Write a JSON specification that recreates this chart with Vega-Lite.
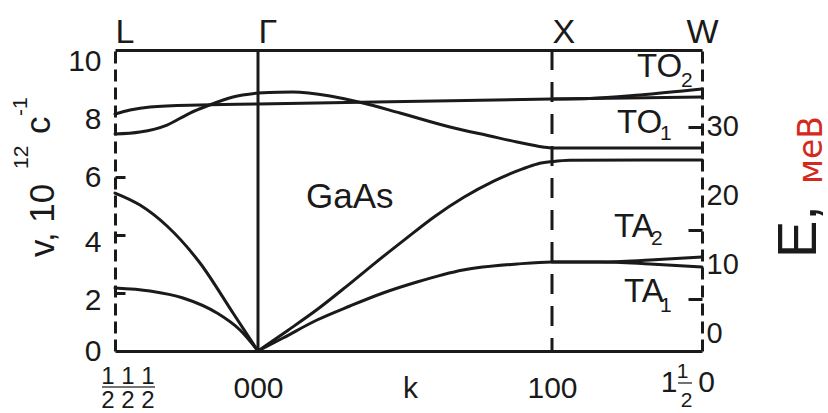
{
  "$schema": "https://vega.github.io/schema/vega-lite/v6.json",
  "width": 587,
  "height": 301,
  "autosize": {"type": "none"},
  "padding": {"left": 115, "top": 50, "right": 126, "bottom": 62},
  "background": "white",
  "config": {
    "view": {"stroke": null},
    "font": "Liberation Sans",
    "axis": {"grid": false}
  },
  "layer": [
    {
      "layer": [
        {
          "data": {"values": [
            {"branch": "LA-LG", "k": -0.4864, "v": 5.448}, {"branch": "LA-LG", "k": -0.4014, "v": 5.034}, {"branch": "LA-LG", "k": -0.3095, "v": 4.31}, {"branch": "LA-LG", "k": -0.1973, "v": 3.034}, {"branch": "LA-LG", "k": -0.085, "v": 1.31}, {"branch": "LA-LG", "k": 0, "v": 0},
            {"branch": "TA-LG", "k": -0.4864, "v": 2.172}, {"branch": "TA-LG", "k": -0.3673, "v": 2.069}, {"branch": "TA-LG", "k": -0.2551, "v": 1.828}, {"branch": "TA-LG", "k": -0.1395, "v": 1.31}, {"branch": "TA-LG", "k": -0.0612, "v": 0.724}, {"branch": "TA-LG", "k": 0, "v": 0},
            {"branch": "TO-LG", "k": -0.4864, "v": 8.172}, {"branch": "TO-LG", "k": -0.4354, "v": 8.31}, {"branch": "TO-LG", "k": -0.3673, "v": 8.414}, {"branch": "TO-LG", "k": -0.1973, "v": 8.483}, {"branch": "TO-LG", "k": 0, "v": 8.517},
            {"branch": "LO-LG", "k": -0.4864, "v": 7.483}, {"branch": "LO-LG", "k": -0.4014, "v": 7.552}, {"branch": "LO-LG", "k": -0.3095, "v": 7.793}, {"branch": "LO-LG", "k": -0.2313, "v": 8.207}, {"branch": "LO-LG", "k": -0.1735, "v": 8.448}, {"branch": "LO-LG", "k": -0.085, "v": 8.759}, {"branch": "LO-LG", "k": 0, "v": 8.897},
            {"branch": "LO-GXW", "k": 0, "v": 8.897}, {"branch": "LO-GXW", "k": 0.119, "v": 8.931}, {"branch": "LO-GXW", "k": 0.2449, "v": 8.793}, {"branch": "LO-GXW", "k": 0.3571, "v": 8.552}, {"branch": "LO-GXW", "k": 0.483, "v": 8.207}, {"branch": "LO-GXW", "k": 0.6531, "v": 7.724}, {"branch": "LO-GXW", "k": 0.7891, "v": 7.414}, {"branch": "LO-GXW", "k": 0.881, "v": 7.207}, {"branch": "LO-GXW", "k": 0.9694, "v": 7.034}, {"branch": "LO-GXW", "k": 1.0, "v": 7.0}, {"branch": "LO-GXW", "k": 1.5102, "v": 7.0},
            {"branch": "TO1-GXW", "k": 0, "v": 8.517}, {"branch": "TO1-GXW", "k": 0.5, "v": 8.6}, {"branch": "TO1-GXW", "k": 1.0, "v": 8.69}, {"branch": "TO1-GXW", "k": 1.5102, "v": 8.759},
            {"branch": "TO2-XW", "k": 1.0, "v": 8.69}, {"branch": "TO2-XW", "k": 1.1293, "v": 8.71}, {"branch": "TO2-XW", "k": 1.2993, "v": 8.83}, {"branch": "TO2-XW", "k": 1.5102, "v": 9.034},
            {"branch": "LA-GXW", "k": 0, "v": 0}, {"branch": "LA-GXW", "k": 0.1, "v": 0.7}, {"branch": "LA-GXW", "k": 0.2, "v": 1.42}, {"branch": "LA-GXW", "k": 0.3, "v": 2.22}, {"branch": "LA-GXW", "k": 0.4, "v": 3.05}, {"branch": "LA-GXW", "k": 0.5, "v": 3.85}, {"branch": "LA-GXW", "k": 0.6, "v": 4.63}, {"branch": "LA-GXW", "k": 0.7, "v": 5.3}, {"branch": "LA-GXW", "k": 0.8, "v": 5.85}, {"branch": "LA-GXW", "k": 0.9, "v": 6.28}, {"branch": "LA-GXW", "k": 0.95, "v": 6.45}, {"branch": "LA-GXW", "k": 1.0, "v": 6.53}, {"branch": "LA-GXW", "k": 1.06, "v": 6.58}, {"branch": "LA-GXW", "k": 1.5102, "v": 6.59},
            {"branch": "TA1-GXW", "k": 0, "v": 0}, {"branch": "TA1-GXW", "k": 0.085, "v": 0.448}, {"branch": "TA1-GXW", "k": 0.2007, "v": 1.069}, {"branch": "TA1-GXW", "k": 0.3129, "v": 1.552}, {"branch": "TA1-GXW", "k": 0.4252, "v": 2.0}, {"branch": "TA1-GXW", "k": 0.5408, "v": 2.379}, {"branch": "TA1-GXW", "k": 0.6973, "v": 2.793}, {"branch": "TA1-GXW", "k": 0.881, "v": 3.0}, {"branch": "TA1-GXW", "k": 1.0, "v": 3.069}, {"branch": "TA1-GXW", "k": 1.1633, "v": 3.069}, {"branch": "TA1-GXW", "k": 1.3333, "v": 3.0}, {"branch": "TA1-GXW", "k": 1.5102, "v": 2.897},
            {"branch": "TA2-XW", "k": 1.0, "v": 3.069}, {"branch": "TA2-XW", "k": 1.1633, "v": 3.069}, {"branch": "TA2-XW", "k": 1.3333, "v": 3.138}, {"branch": "TA2-XW", "k": 1.5102, "v": 3.241}
          ]},
          "mark": {"type": "line", "interpolate": "monotone", "color": "#1a1a1a", "strokeWidth": 3, "strokeCap": "round"},
          "encoding": {
            "x": {
              "field": "k", "type": "quantitative", "title": null,
              "scale": {"domain": [-0.4864, 1.5102], "nice": false, "zero": false},
              "axis": {
                "orient": "bottom",
                "values": [0, 0.517, 1],
                "labelExpr": "datum.value == 0 ? '000' : (datum.value > 0.9 ? '100' : 'k')",
                "grid": false,
                "ticks": false,
                "domainColor": "#1a1a1a",
                "domainWidth": 3,
                "labelColor": "#1a1a1a",
                "labelFontSize": 30,
                "labelBaseline": "alphabetic",
                "labelPadding": 46,
                "labelFlush": false,
                "labelOverlap": false
              }
            },
            "y": {
              "field": "v", "type": "quantitative", "title": null,
              "scale": {"domain": [0, 10.38], "nice": false, "zero": false},
              "axis": {
                "orient": "left",
                "values": [0, 2, 4, 6, 8, 10],
                "grid": false,
                "domainColor": "#1a1a1a",
                "domainWidth": 3,
                "domainDash": [12, 6],
                "tickColor": "#1a1a1a",
                "tickWidth": 3,
                "tickSize": -10,
                "tickOpacity": {"condition": {"test": "datum.value >= 2 && datum.value <= 6", "value": 1}, "value": 0},
                "labelColor": "#1a1a1a",
                "labelFontSize": 30,
                "labelPadding": 24,
                "labelOffset": {"condition": {"test": "datum.value == 2 || datum.value == 4", "value": 7}, "value": 0},
                "labelOverlap": false
              }
            },
            "detail": {"field": "branch"}
          }
        },
        {
          "data": {"values": [{"point": "Γ", "k": 0}]},
          "mark": {"type": "rule", "color": "#1a1a1a", "strokeWidth": 3},
          "encoding": {"x": {"field": "k", "type": "quantitative", "title": null}}
        },
        {
          "data": {"values": [{"point": "X", "k": 1}]},
          "mark": {"type": "rule", "color": "#1a1a1a", "strokeWidth": 3, "strokeDash": [20, 12]},
          "encoding": {"x": {"field": "k", "type": "quantitative", "title": null}}
        },
        {
          "data": {"values": [{"text": "GaAs", "k": 0.1633, "v": 4.931}]},
          "mark": {"type": "text", "fontSize": 35, "align": "left", "baseline": "alphabetic", "color": "#1a1a1a"},
          "encoding": {
            "x": {"field": "k", "type": "quantitative", "title": null},
            "y": {"field": "v", "type": "quantitative", "title": null},
            "text": {"field": "text"}
          }
        },
        {
          "data": {"values": [
            {"text": "v, 10", "k": -0.6939, "v": 3.241},
            {"text": "c", "k": -0.7075, "v": 7.483}
          ]},
          "mark": {"type": "text", "fontSize": 35, "angle": 270, "align": "left", "baseline": "alphabetic", "color": "#1a1a1a"},
          "encoding": {
            "x": {"field": "k", "type": "quantitative", "title": null},
            "y": {"field": "v", "type": "quantitative", "title": null},
            "text": {"field": "text"}
          }
        },
        {
          "data": {"values": [
            {"text": "12", "k": -0.7823, "v": 6.276},
            {"text": "-1", "k": -0.7857, "v": 8.103}
          ]},
          "mark": {"type": "text", "fontSize": 21, "angle": 270, "align": "left", "baseline": "alphabetic", "color": "#1a1a1a"},
          "encoding": {
            "x": {"field": "k", "type": "quantitative", "title": null},
            "y": {"field": "v", "type": "quantitative", "title": null},
            "text": {"field": "text"}
          }
        },
        {
          "data": {"values": [{"text": "E,", "k": 1.898, "v": 3.207}]},
          "mark": {"type": "text", "fontSize": 56, "angle": 270, "align": "left", "baseline": "alphabetic", "color": "#1a1a1a"},
          "encoding": {
            "x": {"field": "k", "type": "quantitative", "title": null},
            "y": {"field": "v", "type": "quantitative", "title": null},
            "text": {"field": "text"}
          }
        },
        {
          "data": {"values": [{"text": "меВ", "k": 1.9184, "v": 6.931}]},
          "mark": {"type": "text", "font": "DejaVu Sans", "fontSize": 33, "angle": 270, "align": "center", "baseline": "alphabetic", "color": "#d42a1e"},
          "encoding": {
            "x": {"field": "k", "type": "quantitative", "title": null},
            "y": {"field": "v", "type": "quantitative", "title": null},
            "text": {"field": "text"}
          }
        },
        {
          "data": {"values": [
            {"text": "1 1 1", "k": -0.4422, "v": -1.138},
            {"text": "2 2 2", "k": -0.4422, "v": -1.966}
          ]},
          "mark": {"type": "text", "fontSize": 24, "align": "center", "baseline": "alphabetic", "color": "#1a1a1a"},
          "encoding": {
            "x": {"field": "k", "type": "quantitative", "title": null},
            "y": {"field": "v", "type": "quantitative", "title": null},
            "text": {"field": "text"}
          }
        },
        {
          "data": {"values": [
            {"text": "1", "k": 1.4439, "v": -0.931},
            {"text": "2", "k": 1.4575, "v": -1.93}
          ]},
          "mark": {"type": "text", "fontSize": 21, "align": "center", "baseline": "alphabetic", "color": "#1a1a1a"},
          "encoding": {
            "x": {"field": "k", "type": "quantitative", "title": null},
            "y": {"field": "v", "type": "quantitative", "title": null},
            "text": {"field": "text"}
          }
        },
        {
          "data": {"values": [
            {"text": "1", "k": 1.398, "v": -1.414},
            {"text": "0", "k": 1.5255, "v": -1.414}
          ]},
          "mark": {"type": "text", "fontSize": 30, "align": "center", "baseline": "alphabetic", "color": "#1a1a1a"},
          "encoding": {
            "x": {"field": "k", "type": "quantitative", "title": null},
            "y": {"field": "v", "type": "quantitative", "title": null},
            "text": {"field": "text"}
          }
        },
        {
          "data": {"values": [
            {"label": "L", "k": -0.5306, "k2": -0.3503, "v": -1.241},
            {"label": "W", "k": 1.4286, "k2": 1.4762, "v": -1.103}
          ]},
          "mark": {"type": "rule", "color": "#444", "strokeWidth": 1.5},
          "encoding": {
            "x": {"field": "k", "type": "quantitative", "title": null},
            "x2": {"field": "k2"},
            "y": {"field": "v", "type": "quantitative", "title": null}
          }
        }
      ]
    },
    {
      "layer": [
        {
          "data": {"values": [
            {"branch": "TO", "k": 1.289, "E": 37.28},
            {"branch": "TO", "k": 1.221, "E": 29.12},
            {"branch": "TA", "k": 1.211, "E": 13.98},
            {"branch": "TA", "k": 1.245, "E": 4.51}
          ]},
          "mark": {"type": "text", "fontSize": 33, "align": "left", "baseline": "alphabetic", "color": "#1a1a1a"},
          "encoding": {
            "x": {
              "field": "k", "type": "quantitative", "title": null,
              "scale": {"domain": [-0.4864, 1.5102], "nice": false, "zero": false},
              "axis": {
                "orient": "top",
                "values": [-0.4864, 0, 1, 1.5102],
                "labelExpr": "datum.value < -0.4 ? 'L' : (datum.value < 0.5 ? 'Γ' : (datum.value < 1.2 ? 'X' : 'W'))",
                "labelAlign": {"condition": {"test": "datum.value > 1.2", "value": "center"}, "value": "left"},
                "grid": false,
                "ticks": false,
                "domainColor": "#1a1a1a",
                "domainWidth": 3,
                "labelColor": "#1a1a1a",
                "labelFontSize": 34,
                "labelBaseline": "alphabetic",
                "labelPadding": 8,
                "labelFlush": false,
                "labelOverlap": false
              }
            },
            "y": {
              "field": "E", "type": "quantitative", "title": null,
              "scale": {"domain": [-2.62, 41.21], "nice": false, "zero": false},
              "axis": {
                "orient": "right",
                "values": [0, 5, 10, 15, 20, 30],
                "labelExpr": "datum.value % 10 === 0 ? datum.label : ''",
                "grid": false,
                "domainColor": "#1a1a1a",
                "domainWidth": 3,
                "domainDash": [12, 6],
                "tickColor": "#1a1a1a",
                "tickWidth": 3,
                "tickSize": -14,
                "tickOpacity": {"condition": {"test": "datum.value === 5 || datum.value === 15 || datum.value === 30", "value": 1}, "value": 0},
                "labelColor": "#1a1a1a",
                "labelFontSize": 29,
                "labelPadding": 18,
                "labelOverlap": false
              }
            },
            "text": {"field": "branch"}
          }
        },
        {
          "data": {"values": [
            {"index": "2", "k": 1.439, "E": 35.82},
            {"index": "1", "k": 1.367, "E": 28.11},
            {"index": "2", "k": 1.337, "E": 12.81},
            {"index": "1", "k": 1.367, "E": 3.06}
          ]},
          "mark": {"type": "text", "fontSize": 21, "align": "left", "baseline": "alphabetic", "color": "#1a1a1a"},
          "encoding": {
            "x": {"field": "k", "type": "quantitative", "title": null},
            "y": {"field": "E", "type": "quantitative", "title": null},
            "text": {"field": "index"}
          }
        }
      ]
    }
  ],
  "resolve": {"scale": {"y": "independent"}, "axis": {"x": "independent", "y": "independent"}}
}
